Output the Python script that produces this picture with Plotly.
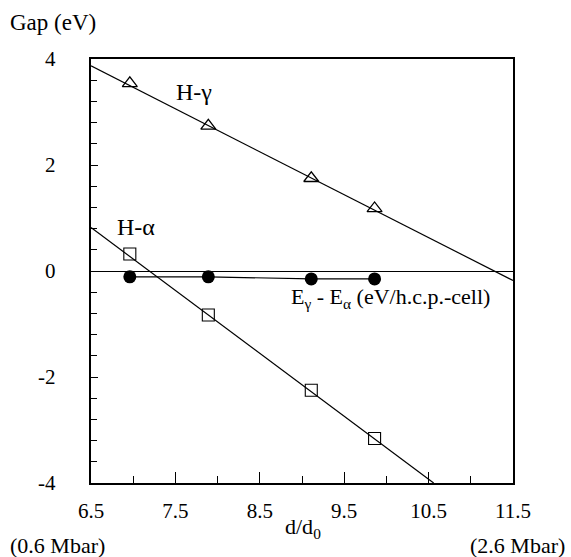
import plotly.graph_objects as go

# Data
d_ratio = [6.96, 7.89, 9.11, 9.86]
gap_gamma = [3.54, 2.74, 1.75, 1.18]
gap_alpha = [0.32, -0.83, -2.25, -3.16]
energy_diff = [-0.11, -0.11, -0.15, -0.15]

gamma_fit_x = [6.5, 11.5]
gamma_fit_y = [3.87, -0.18]
alpha_fit_x = [6.5, 10.56]
alpha_fit_y = [0.82, -4.0]

x_ticks = [6.5, 7.5, 8.5, 9.5, 10.5, 11.5]
y_ticks = [-4, -2, 0, 2, 4]

FONT = "Liberation Serif, Times New Roman, serif"

W, H = 571, 557
ML, MR, MT, MB = 91, 58, 59, 74
PW, PH = W - ML - MR, H - MT - MB


def px_to_paper(x, y):
    return (x - ML) / PW, 1 - (y - MT) / PH


fig = go.Figure()
fig.add_trace(go.Scatter(x=gamma_fit_x, y=gamma_fit_y, mode="lines",
                         line=dict(color="black", width=1.2), showlegend=False))
fig.add_trace(go.Scatter(x=alpha_fit_x, y=alpha_fit_y, mode="lines",
                         line=dict(color="black", width=1.2), showlegend=False))
fig.add_trace(go.Scatter(x=d_ratio, y=gap_gamma, mode="markers",
                         marker=dict(symbol="triangle-up-open", size=13, color="black",
                                     line=dict(width=1.3)), showlegend=False))
fig.add_trace(go.Scatter(x=d_ratio, y=gap_alpha, mode="markers",
                         marker=dict(symbol="square-open", size=12, color="black",
                                     line=dict(width=1.1)), showlegend=False))
fig.add_trace(go.Scatter(x=d_ratio, y=energy_diff, mode="lines+markers",
                         line=dict(color="black", width=1.2),
                         marker=dict(symbol="circle", size=13, color="black"),
                         showlegend=False))

fig.update_layout(
    width=W, height=H,
    margin=dict(l=ML, r=MR, t=MT, b=MB),
    paper_bgcolor="white", plot_bgcolor="white",
    font=dict(family=FONT, size=21, color="black"),
    xaxis=dict(range=[6.5, 11.5], tickvals=x_ticks, ticktext=[str(v) for v in x_ticks],
               ticks="inside", ticklen=11, tickwidth=1.2, tickcolor="black",
               minor=dict(tickvals=[7.0, 8.0, 9.0, 10.0, 11.0], ticks="inside", ticklen=7,
                          tickwidth=1.2, tickcolor="black"),
               showline=True, linecolor="black", linewidth=2, mirror=True,
               showgrid=False, zeroline=False, ticklabelstandoff=8,
               tickfont=dict(family=FONT, size=21)),
    yaxis=dict(range=[-4, 4], tickvals=y_ticks, showticklabels=False,
               ticks="inside", ticklen=7, tickwidth=1.2, tickcolor="black",
               minor=dict(dtick=0.4, tick0=-4, ticks="inside", ticklen=6,
                          tickwidth=1.2, tickcolor="black"),
               showline=True, linecolor="black", linewidth=2, mirror=True,
               showgrid=False, zeroline=True, zerolinecolor="black", zerolinewidth=1.2),
)

# y tick labels, placed at the y-axis values
for v in y_ticks:
    fig.add_annotation(text=str(v), xref="paper", yref="y", x=(58 - ML) / PW, y=v,
                       xanchor="right", yanchor="middle", showarrow=False,
                       font=dict(family=FONT, size=21, color="black"))

annots = [
    ("Gap (eV)", 8, 23, "left", 23),
    ("d/d<sub>0</sub>", 283, 528, "left", 22),
    ("(0.6 Mbar)", 8, 545, "left", 22),
    ("(2.6 Mbar)", 567, 545, "right", 22),
]
for text, x, y, xa, size in annots:
    px, py = px_to_paper(x, y)
    fig.add_annotation(text=text, xref="paper", yref="paper", x=px, y=py,
                       xanchor=xa, yanchor="middle", showarrow=False,
                       font=dict(family=FONT, size=size, color="black"))

fig.add_annotation(text="H-γ", x=7.72, y=3.38, xref="x", yref="y", showarrow=False,
                   font=dict(family=FONT, size=24, color="black"))
fig.add_annotation(text="H-α", x=7.03, y=0.83, xref="x", yref="y", showarrow=False,
                   font=dict(family=FONT, size=24, color="black"))
fig.add_annotation(text="E<sub>γ</sub> - E<sub>α</sub> (eV/h.c.p.-cell)", x=11.25, y=-0.5,
                   xref="x", yref="y", xanchor="right", showarrow=False,
                   font=dict(family=FONT, size=22, color="black"))

fig.write_html("out.html")
